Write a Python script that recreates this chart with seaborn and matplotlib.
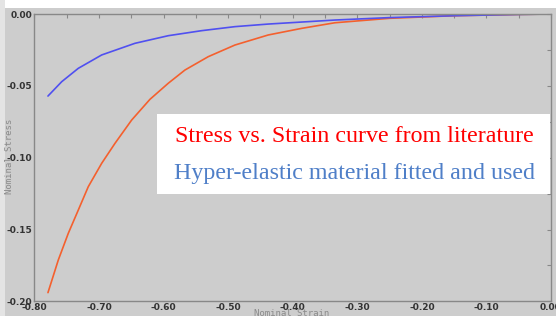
import numpy as np
import pandas as pd
import matplotlib
matplotlib.use('Agg')
import matplotlib.pyplot as plt
from matplotlib.ticker import MultipleLocator, FormatStrFormatter
from matplotlib.patches import Rectangle
import seaborn as sns

# stress vs strain curve from literature (red)
lit_strain = [-0.779, -0.763, -0.7475, -0.732, -0.7166, -0.6958, -0.6752, -0.6494,
              -0.6211, -0.5927, -0.5669, -0.5308, -0.4895, -0.4379, -0.3862, -0.3347,
              -0.25, -0.15, -0.05, 0.0]
lit_stress = [-0.1939, -0.1712, -0.1526, -0.1364, -0.1202, -0.1039, -0.0900, -0.0738,
              -0.0594, -0.0482, -0.0390, -0.0297, -0.0216, -0.0146, -0.0100, -0.0061,
              -0.0030, -0.0012, -0.0003, 0.0]

# hyper-elastic fit (blue)
fit_strain = [-0.779, -0.7577, -0.732, -0.6958, -0.6443, -0.5927, -0.541, -0.4895,
              -0.4379, -0.3862, -0.3347, -0.25, -0.15, -0.05, 0.0]
fit_stress = [-0.0571, -0.0471, -0.0378, -0.0285, -0.0204, -0.0151, -0.0116, -0.0088,
              -0.0070, -0.0056, -0.0042, -0.0025, -0.0012, -0.0003, 0.0]

xticks = [-0.80, -0.70, -0.60, -0.50, -0.40, -0.30, -0.20, -0.10, 0.00]
yticks = [0.00, -0.05, -0.10, -0.15, -0.20]

df_lit = pd.DataFrame({'strain': lit_strain, 'stress': lit_stress})
df_fit = pd.DataFrame({'strain': fit_strain, 'stress': fit_stress})

sns.set_style('white')
bg = '#cdcdcd'
fig = plt.figure(figsize=(5.56, 3.16), dpi=100, facecolor=bg)
# white strips at the top and left edge of the screenshot
fig.patches.append(Rectangle((0, 1 - 8/316), 1, 8/316, transform=fig.transFigure,
                             facecolor='white', edgecolor='none', zorder=-1))
fig.patches.append(Rectangle((0, 0), 5/556, 1, transform=fig.transFigure,
                             facecolor='#e4e4e4', edgecolor='none', zorder=-1))
ax = fig.add_axes([34.4/556, 1 - 301.4/316, (551 - 34.4)/556, (301.4 - 14)/316])
ax.set_facecolor(bg)

sns.lineplot(data=df_lit, x='strain', y='stress', ax=ax, color='#f4602e', linewidth=1.2)
sns.lineplot(data=df_fit, x='strain', y='stress', ax=ax, color='#5050f0', linewidth=1.2)

ax.set_xlim(-0.80, 0.0)
ax.set_ylim(-0.20, 0.0)
ax.set_xticks(xticks)
ax.set_yticks(yticks)
ax.xaxis.set_minor_locator(MultipleLocator(0.05))
ax.yaxis.set_minor_locator(MultipleLocator(0.025))
ax.xaxis.set_major_formatter(FormatStrFormatter('%.2f'))
ax.yaxis.set_major_formatter(FormatStrFormatter('%.2f'))
ax.tick_params(which='both', direction='in', length=3, width=0.8, color='#888888',
               top=True, right=True, labelsize=6.5, labelcolor='#333333', pad=1.5)
for lab in ax.get_xticklabels() + ax.get_yticklabels():
    lab.set_fontweight('bold')
for s in ax.spines.values():
    s.set_color('#888888')
    s.set_linewidth(1.0)

ax.set_xlabel('')
ax.set_ylabel('')
fig.text(292/556, 1 - 313/316, 'Nominal Strain', family='DejaVu Sans Mono', fontsize=6.5,
         color='#8a8a8a', ha='center', va='center')
fig.text(10/556, 1 - 156/316, 'Nominal Stress', family='DejaVu Sans Mono', fontsize=6.5,
         color='#8a8a8a', ha='center', va='center', rotation=90)

# white annotation box
ax.add_patch(Rectangle((157/556, 1 - 194/316), (550 - 157)/556, 80/316,
                       transform=fig.transFigure, facecolor='white', edgecolor='none',
                       zorder=5))
fig.text(354/556, 1 - 137/316, 'Stress vs. Strain curve from literature',
         family='Liberation Serif', fontsize=17.3, color='#ff0000', ha='center',
         va='center', zorder=6)
fig.text(354/556, 1 - 173/316, 'Hyper-elastic material fitted and used',
         family='Liberation Serif', fontsize=17.3, color='#4f7fc8', ha='center',
         va='center', zorder=6)

fig.savefig('out.png', dpi=100, facecolor=bg)
